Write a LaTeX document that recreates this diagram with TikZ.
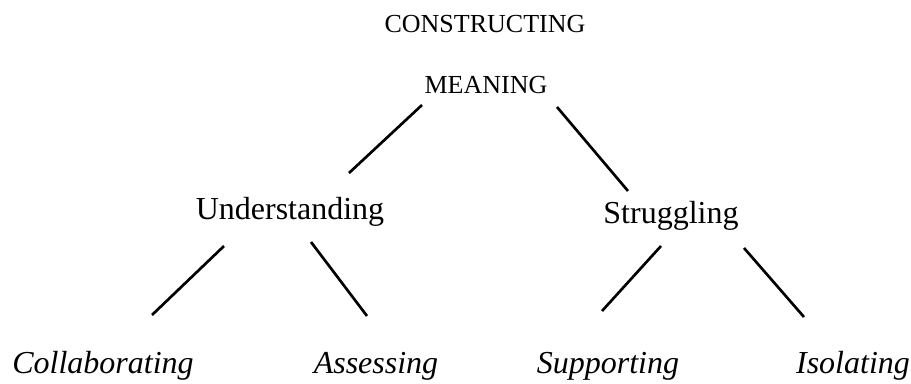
\documentclass[tikz,border=0pt]{standalone}
\usepackage{fontspec}
\setmainfont{Liberation Serif}

\begin{document}
\begin{tikzpicture}[x=0.75pt, y=-0.75pt,
                    every node/.style={anchor=base, inner sep=0pt},
                    root_style/.style={font=\fontsize{19.5}{22}\selectfont},
                    mid_style/.style={font=\fontsize{24}{28}\selectfont},
                    leaf_style/.style={font=\fontsize{24}{28}\selectfont\itshape},
                    edge_style/.style={draw=black, line width=2pt}]
                    \useasboundingbox (0, 0) rectangle (911, 383);
                    \node[root_style] (cons) at (485, 32) {CONSTRUCTING};
                    \node[root_style] (mean) at (486, 93) {MEANING};
                    \node[mid_style] (und) at (290, 219) {Understanding};
                    \node[mid_style] (str) at (671, 223) {Struggling};
                    \node[leaf_style] (col) at (103, 373) {Collaborating};
                    \node[leaf_style] (ass) at (376, 373) {Assessing};
                    \node[leaf_style] (sup) at (608, 373) {Supporting};
                    \node[leaf_style] (iso) at (853, 373) {Isolating};
                    \coordinate (mean_l) at (422, 105);
                    \coordinate (mean_r) at (557, 107);
                    \coordinate (und_t) at (349, 173);
                    \coordinate (str_t) at (628, 191);
                    \coordinate (und_l) at (224, 246);
                    \coordinate (und_r) at (311, 242);
                    \coordinate (col_t) at (152, 315);
                    \coordinate (ass_t) at (367, 316);
                    \coordinate (str_l) at (661, 246);
                    \coordinate (str_r) at (744, 248);
                    \coordinate (sup_t) at (602, 311);
                    \coordinate (iso_t) at (804, 317);
                    \draw[edge_style] (mean_l) edge (und_t);
                    \draw[edge_style] (mean_r) edge (str_t);
                    \draw[edge_style] (und_l) edge (col_t);
                    \draw[edge_style] (und_r) edge (ass_t);
                    \draw[edge_style] (str_l) edge (sup_t);
                    \draw[edge_style] (str_r) edge (iso_t);
                \end{tikzpicture}
\end{document}
